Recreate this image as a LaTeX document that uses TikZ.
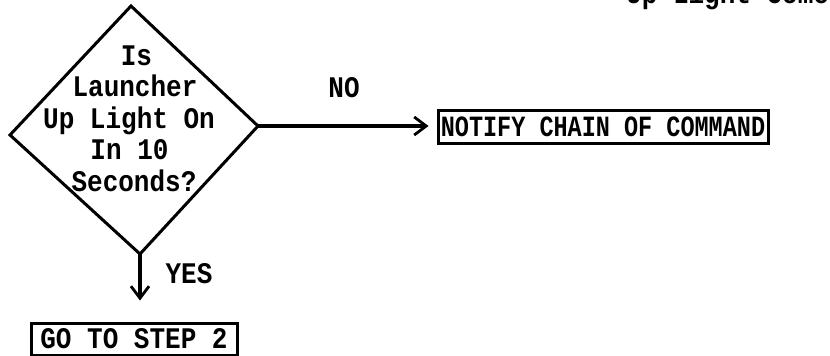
\documentclass[tikz,border=0pt]{standalone}
\usepackage{fontspec}
\setmainfont{Liberation Mono}
\usetikzlibrary{arrows.meta}
\newcommand{\vstretch}[1]{\scalebox{1}[1.15]{#1}}
\tikzset{
  x=1pt, y=-1pt,
  ln/.style={line width=3pt, line join=miter},
  arr/.style={line width=3.2pt, -{Straight Barb[length=12pt,width=18pt,line width=2.8pt]}},
  boxnode/.style={draw, line width=3pt, inner sep=0pt, font=\bfseries\fontsize{26}{30}\selectfont},
  txt/.style={inner sep=0pt, anchor=base, font=\bfseries\fontsize{26}{30}\selectfont}
}
\begin{document}
\begin{tikzpicture}
\useasboundingbox (0,0) rectangle (830,356);
% cut-off text at top
\node[txt, anchor=base west] (top) at (626,4) {\vstretch{Up Light Come}};
% diamond
\coordinate (dtop) at (131,6);
\coordinate (dleft) at (10,135);
\coordinate (dbot) at (140,254);
\coordinate (dright) at (258,126);
\draw[ln] (dtop) -- (dright) -- (dbot) -- (dleft) -- cycle;
\node[txt] (q1) at (136.5,65) {\vstretch{Is}};
\node[txt] (q2) at (135,96.5) {\vstretch{Launcher}};
\node[txt] (q3) at (129,128) {\vstretch{Up Light On}};
\node[txt] (q4) at (129.5,159.5) {\vstretch{In 10}};
\node[txt] (q5) at (134,191) {\vstretch{Seconds?}};
% boxes
\node[boxnode, minimum width=330pt, minimum height=33pt, font=\bfseries\fontsize{23.5}{30}\selectfont] (notify) at (603,126.5) {\scalebox{1}[1.25]{NOTIFY CHAIN OF COMMAND}};
\node[boxnode, minimum width=206pt, minimum height=32pt] (go) at (134,339) {\vstretch{GO TO STEP 2}};
% connectors
\draw[arr, shorten >=8pt] (dright) -- (notify.west |- dright);
\draw[arr, shorten >=21pt] (dbot) -- (dbot |- go.north);
% labels
\node[txt] (no) at (344,97) {\vstretch{NO}};
\node[txt] (yes) at (189,283) {\vstretch{YES}};
\end{tikzpicture}
\end{document}
